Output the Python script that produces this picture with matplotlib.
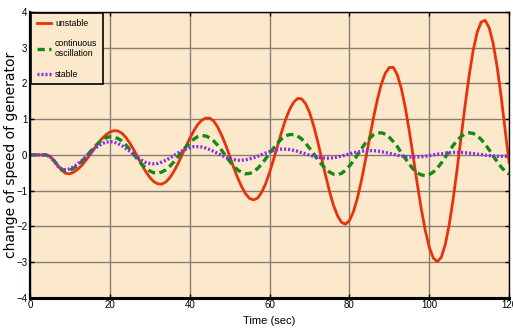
import numpy as np
import matplotlib
matplotlib.use("Agg")
import matplotlib.pyplot as plt

#==============================
# 1. VALUES
#==============================
time = np.arange(0, 121, 1)

unstable = [
    0, 0, 0, 0, 0, -0.04, -0.16, -0.30, -0.44, -0.52,
    -0.53, -0.48, -0.40, -0.29, -0.15, 0.00, 0.16, 0.32, 0.45, 0.56,
    0.64, 0.68, 0.67, 0.61, 0.49, 0.33, 0.14, -0.07, -0.28, -0.47,
    -0.63, -0.75, -0.81, -0.82, -0.76, -0.64, -0.47, -0.26, -0.02, 0.22,
    0.46, 0.67, 0.85, 0.97, 1.03, 1.03, 0.95, 0.78, 0.55, 0.28,
    -0.03, -0.35, -0.64, -0.89, -1.09, -1.22, -1.26, -1.21, -1.05, -0.81,
    -0.49, -0.13, 0.26, 0.64, 0.99, 1.27, 1.47, 1.58, 1.57, 1.44,
    1.19, 0.83, 0.40, -0.08, -0.56, -1.02, -1.41, -1.70, -1.89, -1.94,
    -1.84, -1.59, -1.21, -0.72, -0.15, 0.44, 1.03, 1.55, 1.99, 2.29,
    2.45, 2.45, 2.24, 1.86, 1.32, 0.66, -0.07, -0.82, -1.52, -2.12,
    -2.59, -2.89, -2.99, -2.87, -2.51, -1.95, -1.22, -0.37, 0.53, 1.42,
    2.24, 2.93, 3.44, 3.72, 3.77, 3.56, 3.12, 2.46, 1.63, 0.69,
    -0.22,
]

continuous = [
    0, 0, 0, 0, 0, -0.05, -0.16, -0.30, -0.41, -0.45,
    -0.43, -0.37, -0.29, -0.18, -0.06, 0.08, 0.20, 0.32, 0.41, 0.48,
    0.51, 0.50, 0.46, 0.39, 0.28, 0.15, 0.01, -0.13, -0.26, -0.37,
    -0.45, -0.50, -0.51, -0.48, -0.42, -0.32, -0.20, -0.06, 0.08, 0.22,
    0.34, 0.44, 0.51, 0.54, 0.53, 0.48, 0.39, 0.27, 0.13, -0.03,
    -0.18, -0.31, -0.42, -0.49, -0.53, -0.52, -0.47, -0.38, -0.26, -0.11,
    0.04, 0.19, 0.33, 0.45, 0.53, 0.57, 0.57, 0.53, 0.45, 0.33,
    0.19, 0.04, -0.12, -0.26, -0.39, -0.48, -0.54, -0.55, -0.52, -0.43,
    -0.31, -0.17, 0.00, 0.17, 0.33, 0.46, 0.56, 0.61, 0.62, 0.58,
    0.49, 0.37, 0.23, 0.06, -0.10, -0.26, -0.40, -0.50, -0.56, -0.58,
    -0.55, -0.48, -0.37, -0.23, -0.06, 0.10, 0.27, 0.41, 0.52, 0.59,
    0.62, 0.60, 0.54, 0.43, 0.30, 0.14, -0.03, -0.19, -0.34, -0.46,
    -0.54,
]

stable = [
    0, 0, 0, 0, 0, -0.05, -0.17, -0.32, -0.41, -0.42,
    -0.39, -0.33, -0.25, -0.16, -0.05, 0.06, 0.16, 0.24, 0.31, 0.36,
    0.37, 0.36, 0.32, 0.26, 0.18, 0.10, 0.01, -0.08, -0.15, -0.21,
    -0.24, -0.25, -0.24, -0.20, -0.15, -0.09, -0.02, 0.05, 0.11, 0.16,
    0.20, 0.23, 0.23, 0.22, 0.19, 0.15, 0.10, 0.04, -0.01, -0.06,
    -0.10, -0.13, -0.15, -0.15, -0.14, -0.11, -0.08, -0.04, 0.01, 0.05,
    0.09, 0.12, 0.15, 0.16, 0.16, 0.15, 0.13, 0.10, 0.06, 0.03,
    -0.01, -0.04, -0.07, -0.08, -0.09, -0.09, -0.08, -0.06, -0.03, -0.01,
    0.03, 0.06, 0.08, 0.10, 0.12, 0.12, 0.12, 0.11, 0.09, 0.07,
    0.04, 0.02, -0.01, -0.03, -0.05, -0.06, -0.06, -0.06, -0.05, -0.04,
    -0.02, 0.00, 0.02, 0.03, 0.05, 0.06, 0.07, 0.07, 0.07, 0.06,
    0.05, 0.04, 0.02, 0.01, -0.01, -0.02, -0.03, -0.04, -0.04, -0.04,
    -0.03,
]

x_ticks = [0, 20, 40, 60, 80, 100, 120]
y_ticks = [-4, -3, -2, -1, 0, 1, 2, 3, 4]

#=========
# 2. FIGURE
#=========
narrow = ['Liberation Sans', 'DejaVu Sans']
bg = '#FCE9CC'

fig = plt.figure(figsize=(5.13, 3.36), dpi=100)
ax = fig.add_axes([0.0585, 0.114, 0.934, 0.85])
ax.set_facecolor(bg)

ax.plot(time, unstable, color='#E8320C', lw=2.0, label='unstable')
ax.plot(time, continuous, color='#138A13', lw=2.4, ls=(0, (2.2, 1.3)),
        label='continuous\noscillation')
ax.plot(time, stable, color='#8A2BE8', lw=2.4, ls=(0, (0.6, 0.6)),
        label='stable')

ax.set_xlim(0, 120)
ax.set_ylim(-4, 4)
ax.set_xticks(x_ticks)
ax.set_yticks(y_ticks)
ax.grid(True, color='#877d75', lw=1.0)
ax.set_axisbelow(True)
ax.tick_params(direction='in', top=True, right=True, length=3, width=1,
               labelsize=7, pad=2)
for lab in ax.get_xticklabels() + ax.get_yticklabels():
    lab.set_family(narrow)

for side in ['left', 'top', 'right']:
    ax.spines[side].set_linewidth(1.0)
ax.spines['bottom'].set_linewidth(2.2)
ax.spines['left'].set_linewidth(1.6)

ax.set_xlabel('Time (sec)', family=narrow, fontsize=8, labelpad=4)
ax.set_ylabel('change of speed of generator', fontsize=10)
ax.yaxis.set_label_coords(-0.026, 0.5)

leg = ax.legend(loc='upper left', prop={'family': narrow, 'size': 6.3},
                frameon=True, fancybox=False, handlelength=1.6,
                handletextpad=0.5, borderpad=0.6, labelspacing=1.3,
                borderaxespad=0.15)
leg.get_frame().set_edgecolor('black')
leg.get_frame().set_linewidth(1.2)
leg.get_frame().set_facecolor(bg)
leg.get_frame().set_alpha(1)

fig.savefig('out.png', dpi=100, facecolor='white')
